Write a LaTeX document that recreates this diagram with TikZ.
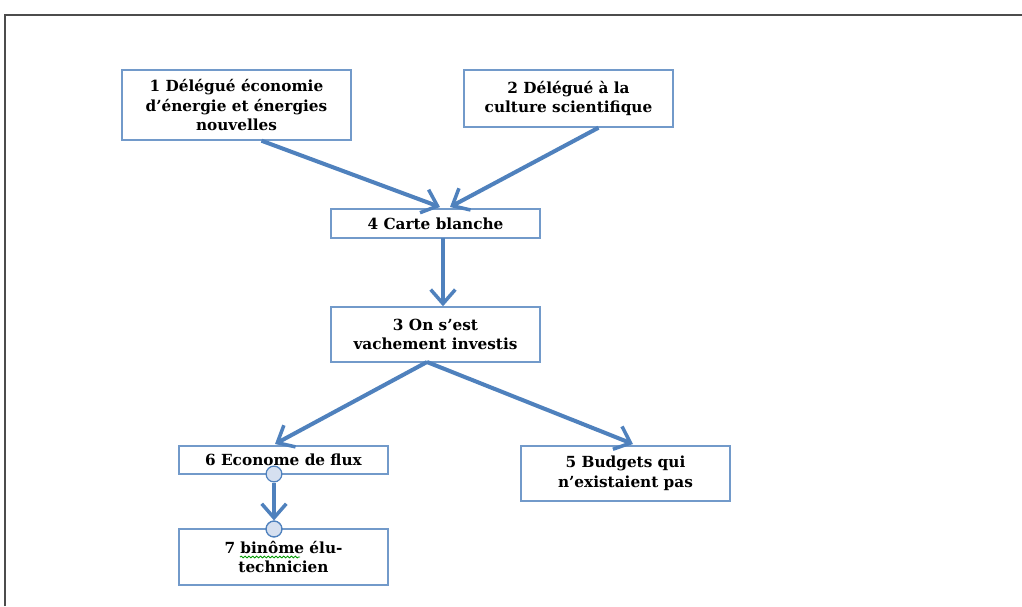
\documentclass[tikz,border=0pt]{standalone}
\usepackage{fontspec}
\setmainfont{DejaVu Serif}
\usetikzlibrary{arrows.meta,decorations.pathmorphing}
\definecolor{boxblue}{RGB}{79,129,189}
\definecolor{dotfill}{RGB}{214,224,240}
\begin{document}
\begin{tikzpicture}[x=0.02cm,y=-0.02cm,
  box/.style={draw=boxblue!80, line width=0.8pt, align=center, inner sep=0pt,
    font=\fontsize{8.7}{11.3}\selectfont\bfseries},
  link/.style={draw=boxblue, line width=2.3pt,
    -{Straight Barb[length=8pt,width=14pt,line width=2pt]}},
  dot/.style={circle, draw=boxblue, fill=dotfill, line width=0.7pt, minimum size=9pt, inner sep=0pt},
  spellwave/.style={draw=green!60!black, line width=0.5pt, decorate,
    decoration={snake, amplitude=0.5pt, segment length=2.2pt}}]
\useasboundingbox (0,0) rectangle (1022,606);
% FRAME
\draw[line width=1.5pt, black!70] (5,606) -- (5,15) -- (1022,15);
% TEXT
\node[box, minimum width=229*0.02cm, minimum height=70*0.02cm] at (236.5,105) (deleg_energie) {1 Délégué économie\\d’énergie et énergies\\nouvelles};
\node[box, minimum width=209*0.02cm, minimum height=57*0.02cm] at (568.5,98.5) (deleg_culture) {2 Délégué à la\\culture scientifique};
\node[box, minimum width=209*0.02cm, minimum height=29*0.02cm] at (435.5,223.5) (carte_blanche) {4 Carte blanche};
\node[box, minimum width=209*0.02cm, minimum height=55*0.02cm] at (435.5,334.5) (investis) {3 On s’est\\vachement investis};
\node[box, minimum width=209*0.02cm, minimum height=28*0.02cm] at (283.5,460) (econome) {6 Econome de flux};
\node[box, minimum width=209*0.02cm, minimum height=55*0.02cm] at (625.5,473.5) (budgets) {5 Budgets qui\\n’existaient pas};
\node[box, minimum width=209*0.02cm, minimum height=56*0.02cm] at (283.5,557) (binome) {7 binôme élu-\\technicien};
\draw[spellwave] (240,557) -- (300,557); % spell check
% ARROWS
\draw[link] (deleg_energie.south) ++(25,0) coordinate (e1) -- (440,207);
\draw[link] (deleg_culture.south) ++(30,0) coordinate (c1) -- (450,207);
\draw[link] (443,238) -- (investis.north -| 443,0);
\draw[link] (427,362) coordinate (i1) -- (275,444);
\draw[link] (i1) -- (633,444);
\node[dot] at (274,474) (dot_top) {};
\node[dot] at (274,529) (dot_bottom) {};
\draw[link] (dot_top) -- (dot_bottom.north);
\node[dot] at (274,529) {};
\end{tikzpicture}
\end{document}
